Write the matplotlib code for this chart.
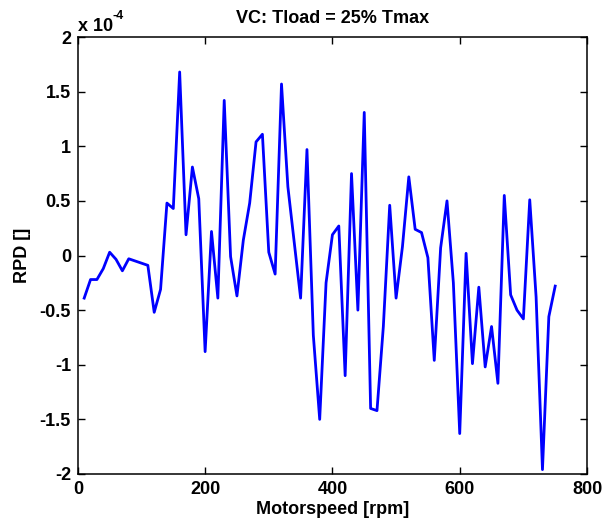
import matplotlib
matplotlib.use("Agg")
import matplotlib.pyplot as plt
from matplotlib.ticker import FuncFormatter, MultipleLocator

plt.rcParams['font.family'] = ['Liberation Sans', 'DejaVu Sans']
plt.rcParams['mathtext.fontset'] = 'custom'
plt.rcParams['mathtext.rm'] = 'Liberation Sans'
plt.rcParams['mathtext.bf'] = 'Liberation Sans:bold'

speed = list(range(10, 760, 10))
rpd_e4 = [-0.39, -0.22, -0.22, -0.12, 0.03, -0.035, -0.14, -0.03, -0.05, -0.07,
          -0.09, -0.52, -0.31, 0.48, 0.43, 1.68, 0.19, 0.81, 0.52, -0.88,
          0.22, -0.39, 1.42, -0.01, -0.37, 0.14, 0.48, 1.04, 1.11, 0.03,
          -0.17, 1.57, 0.63, 0.12, -0.39, 0.97, -0.73, -1.50, -0.25, 0.19,
          0.27, -1.10, 0.75, -0.50, 1.31, -1.40, -1.42, -0.65, 0.46, -0.39,
          0.08, 0.72, 0.24, 0.21, -0.02, -0.96, 0.07, 0.50, -0.25, -1.63,
          0.02, -0.99, -0.29, -1.02, -0.65, -1.17, 0.55, -0.36, -0.50, -0.58,
          0.51, -0.38, -1.96, -0.56, -0.28]

title = "VC: Tload = 25% Tmax"
xlabel = "Motorspeed [rpm]"
ylabel = "RPD []"

fig = plt.figure(figsize=(6.08, 5.29), dpi=100)
ax = fig.add_axes([0.128, 0.104, 0.8375, 0.826])
ax.plot(speed, rpd_e4, color=(0, 0, 1), linewidth=2)
ax.set_xlim(0, 800)
ax.set_ylim(-2, 2)
ax.xaxis.set_major_locator(MultipleLocator(200))
ax.yaxis.set_major_locator(MultipleLocator(0.5))
fmt = FuncFormatter(lambda v, p: ('%g' % v).replace('\u2212', '-'))
ax.xaxis.set_major_formatter(fmt)
ax.yaxis.set_major_formatter(fmt)
ax.tick_params(direction='in', top=True, right=True, length=5, width=1,
               labelsize=13, pad=5)
for lab in ax.get_xticklabels() + ax.get_yticklabels():
    lab.set_fontweight('bold')
for s in ax.spines.values():
    s.set_linewidth(1.1)
ax.set_title(title, fontsize=13, fontweight='bold', pad=10)
ax.set_xlabel(xlabel, fontsize=13, fontweight='bold', labelpad=2)
ax.set_ylabel(ylabel, fontsize=13, fontweight='bold', labelpad=6)
ax.text(0.0, 1.005, 'x 10', transform=ax.transAxes,
        fontsize=13, fontweight='bold', ha='left', va='bottom')
ax.text(0.069, 1.035, '-4', transform=ax.transAxes,
        fontsize=9, fontweight='bold', ha='left', va='bottom')
fig.savefig('out.png', dpi=100)
